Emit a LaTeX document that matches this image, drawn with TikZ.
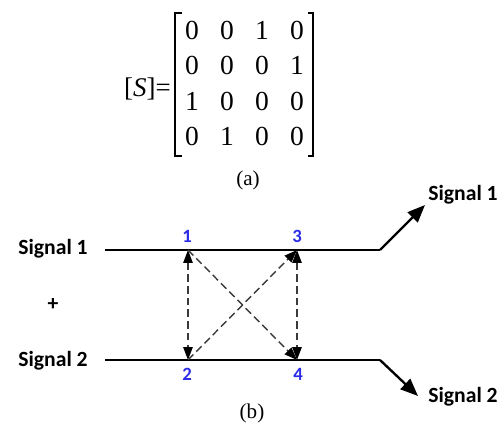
\documentclass[tikz,border=0pt]{standalone}
\usepackage{fontspec}
\setmainfont{Liberation Serif}
\setsansfont{Carlito}
\usetikzlibrary{arrows.meta}
\definecolor{portblue}{HTML}{2B2BE6}
\definecolor{dashgray}{HTML}{3A3A3A}

\begin{document}
\begin{tikzpicture}[x=0.03cm,y=-0.03cm,
  sig/.style={font=\sffamily\bfseries\fontsize{18.5}{20}\selectfont,inner sep=0pt,anchor=base},
  port/.style={font=\sffamily\bfseries\fontsize{16}{18}\selectfont,text=portblue,inner sep=0pt,anchor=base},
  entry/.style={font=\fontsize{23.5}{26}\selectfont,inner sep=0pt},
  wire/.style={line width=2pt},
  outarrow/.style={line width=2pt,-{Triangle[length=15pt,width=12pt]}},
  link/.style={dashgray,line width=1.2pt,dash pattern=on 6.5pt off 3.5pt,-{Triangle[black,length=11pt,width=8pt]}},
  dlink/.style={link,{Triangle[black,length=11pt,width=8pt]}-{Triangle[black,length=11pt,width=8pt]}}]
  \useasboundingbox (0,0) rectangle (503,431);
  % (a) scattering matrix
  \node[entry,anchor=base east,font=\fontsize{23}{26}\selectfont] (lhs) at (171,97) {[\textit{S}]=};
  \foreach \row [count=\i] in {{0,0,1,0},{0,0,0,1},{1,0,0,0},{0,1,0,0}}
    \foreach \v [count=\j] in \row
      \node[entry] (s\i\j) at ({157+35*\j},{-5.5+35.6*\i}) {\v};
  \draw[line width=1pt] (182,13) -- (175,13) -- (175,156) -- (182,156);
  \draw[line width=1pt] (308,13) -- (313,13) -- (313,156) -- (308,156);
  \node[font=\fontsize{18}{20}\selectfont] (capa) at (248,180) {(a)};
  % (b) coupler
  \coordinate (p1) at (188,250);
  \coordinate (p3) at (297,250);
  \coordinate (p2) at (188,360);
  \coordinate (p4) at (297,360);
  \coordinate (a1) at (105,250);
  \coordinate (b1) at (380,250);
  \coordinate (c1) at (425,205);
  \coordinate (a2) at (105,360);
  \coordinate (b2) at (380,360);
  \coordinate (c2) at (418,396);
  \draw[wire] (a1) -- (b1);
  \draw[wire] (a2) -- (b2);
  \draw[outarrow] (b1) -- (c1);
  \draw[outarrow] (b2) -- (c2);
  \draw[dlink] (p1) -- (p2);
  \draw[dlink] (p3) -- (p4);
  \draw[link] (p1) -- (p4);
  \draw[link] (p2) -- (p3);
  \node[sig] (in1) at (53,255) {Signal 1};
  \node[sig] (in2) at (53,367) {Signal 2};
  \node[sig,anchor=center] (plus) at (53,305) {+};
  \node[sig] (out1) at (463,201) {Signal 1};
  \node[sig] (out2) at (463,402) {Signal 2};
  \node[port] (n1) at (187,243) {1};
  \node[port] (n3) at (297,243) {3};
  \node[port] (n2) at (187,381) {2};
  \node[port] (n4) at (298,381) {4};
  \node[font=\fontsize{18}{20}\selectfont] (capb) at (252,413) {(b)};
\end{tikzpicture}
\end{document}
